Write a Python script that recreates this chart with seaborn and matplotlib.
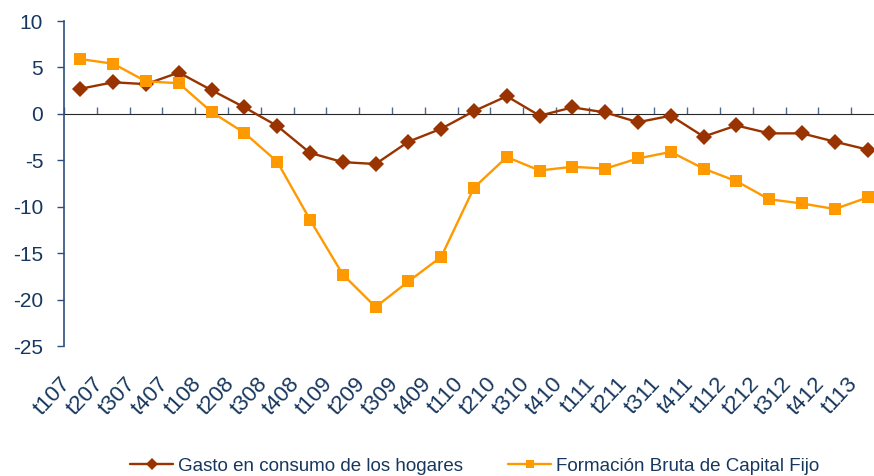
import numpy as np
import pandas as pd
import matplotlib
matplotlib.use("Agg")
import matplotlib.pyplot as plt
import matplotlib.transforms as mtransforms
import seaborn as sns

periodos = ["t107", "t207", "t307", "t407", "t108", "t208", "t308", "t408",
            "t109", "t209", "t309", "t409", "t110", "t210", "t310", "t410",
            "t111", "t211", "t311", "t411", "t112", "t212", "t312", "t412", "t113"]

gasto = [2.7, 3.4, 3.2, 4.45, 2.55, 0.7, -1.3, -4.2,
         -5.2, -5.4, -3.0, -1.6, 0.3, 1.9, -0.2, 0.7,
         0.15, -0.9, -0.2, -2.45, -1.25, -2.1, -2.1, -3.0, -3.85]

fbcf = [5.9, 5.4, 3.5, 3.3, 0.2, -2.05, -5.15, -11.4,
        -17.3, -20.8, -18.05, -15.4, -7.95, -4.65, -6.1, -5.7,
        -5.9, -4.8, -4.1, -5.9, -7.25, -9.2, -9.65, -10.25, -9.0]

serie_gasto = "Gasto en consumo de los hogares"
serie_fbcf = "Formación Bruta de Capital Fijo"

df = pd.DataFrame({"periodo": periodos * 2,
                   "valor": gasto + fbcf,
                   "serie": [serie_gasto] * len(gasto) + [serie_fbcf] * len(fbcf)})
df["pos"] = list(range(len(periodos))) * 2

sns.set_style("white")
plt.rcParams["font.family"] = ["Liberation Sans", "DejaVu Sans"]
plt.rcParams["axes.unicode_minus"] = False

navy = "#17375E"
axis_col = "#2E4F7C"

fig = plt.figure(figsize=(8.74, 4.76), dpi=100)
W, H = 874, 476
ax = fig.add_axes([64 / W, 1 - 346 / H, (884 - 64) / W, (346 - 21) / H])

sns.lineplot(data=df, x="pos", y="valor", hue="serie", style="serie",
             palette={serie_gasto: "#993300", serie_fbcf: "#FF9900"},
             markers={serie_gasto: "D", serie_fbcf: "s"},
             dashes=False, linewidth=1.7, markersize=8, markeredgewidth=0,
             sort=False, ax=ax)

ax.set_xlim(-0.5, len(periodos) - 0.5)
ax.set_ylim(-25, 10)
ax.set_yticks(np.arange(-25, 11, 5))
ax.set_xlabel("")
ax.set_ylabel("")

for s in ["top", "right", "bottom"]:
    ax.spines[s].set_visible(False)
ax.spines["left"].set_color(axis_col)
ax.spines["left"].set_linewidth(1.2)

ax.tick_params(axis="y", direction="out", length=5, width=1, color=axis_col,
               labelsize=15, labelcolor=navy, pad=10, left=True)
ax.set_xticks(range(len(periodos)))
ax.set_xticklabels(periodos, rotation=47, ha="right", va="top",
                   rotation_mode="anchor", fontsize=16, color=navy)
ax.tick_params(axis="x", length=0, pad=19.5)
shift = mtransforms.ScaledTranslation(-0.21, 0, fig.dpi_scale_trans)
for lab in ax.get_xticklabels():
    lab.set_transform(lab.get_transform() + shift)

# linea del cero con marcas entre categorias
sec = ax.secondary_xaxis(25 / 35)
sec.spines["bottom"].set_color("#4A6A92")
sec.spines["bottom"].set_linewidth(1.2)
sec.set_xticks(np.arange(-0.5, len(periodos), 1.0))
sec.set_xticklabels([])
sec.tick_params(direction="out", length=5, width=1, color="#4A6A92")

ax.get_legend().remove()
handles, labels = ax.get_legend_handles_labels()
leg = fig.legend(handles, labels, loc="center", bbox_to_anchor=(0.543, 0.02),
                 ncol=2, frameon=False, fontsize=13.5, handlelength=2.3,
                 handletextpad=0.25, columnspacing=2.4, markerscale=0.8)
for t in leg.get_texts():
    t.set_color(navy)

fig.savefig("out.png", dpi=100)
